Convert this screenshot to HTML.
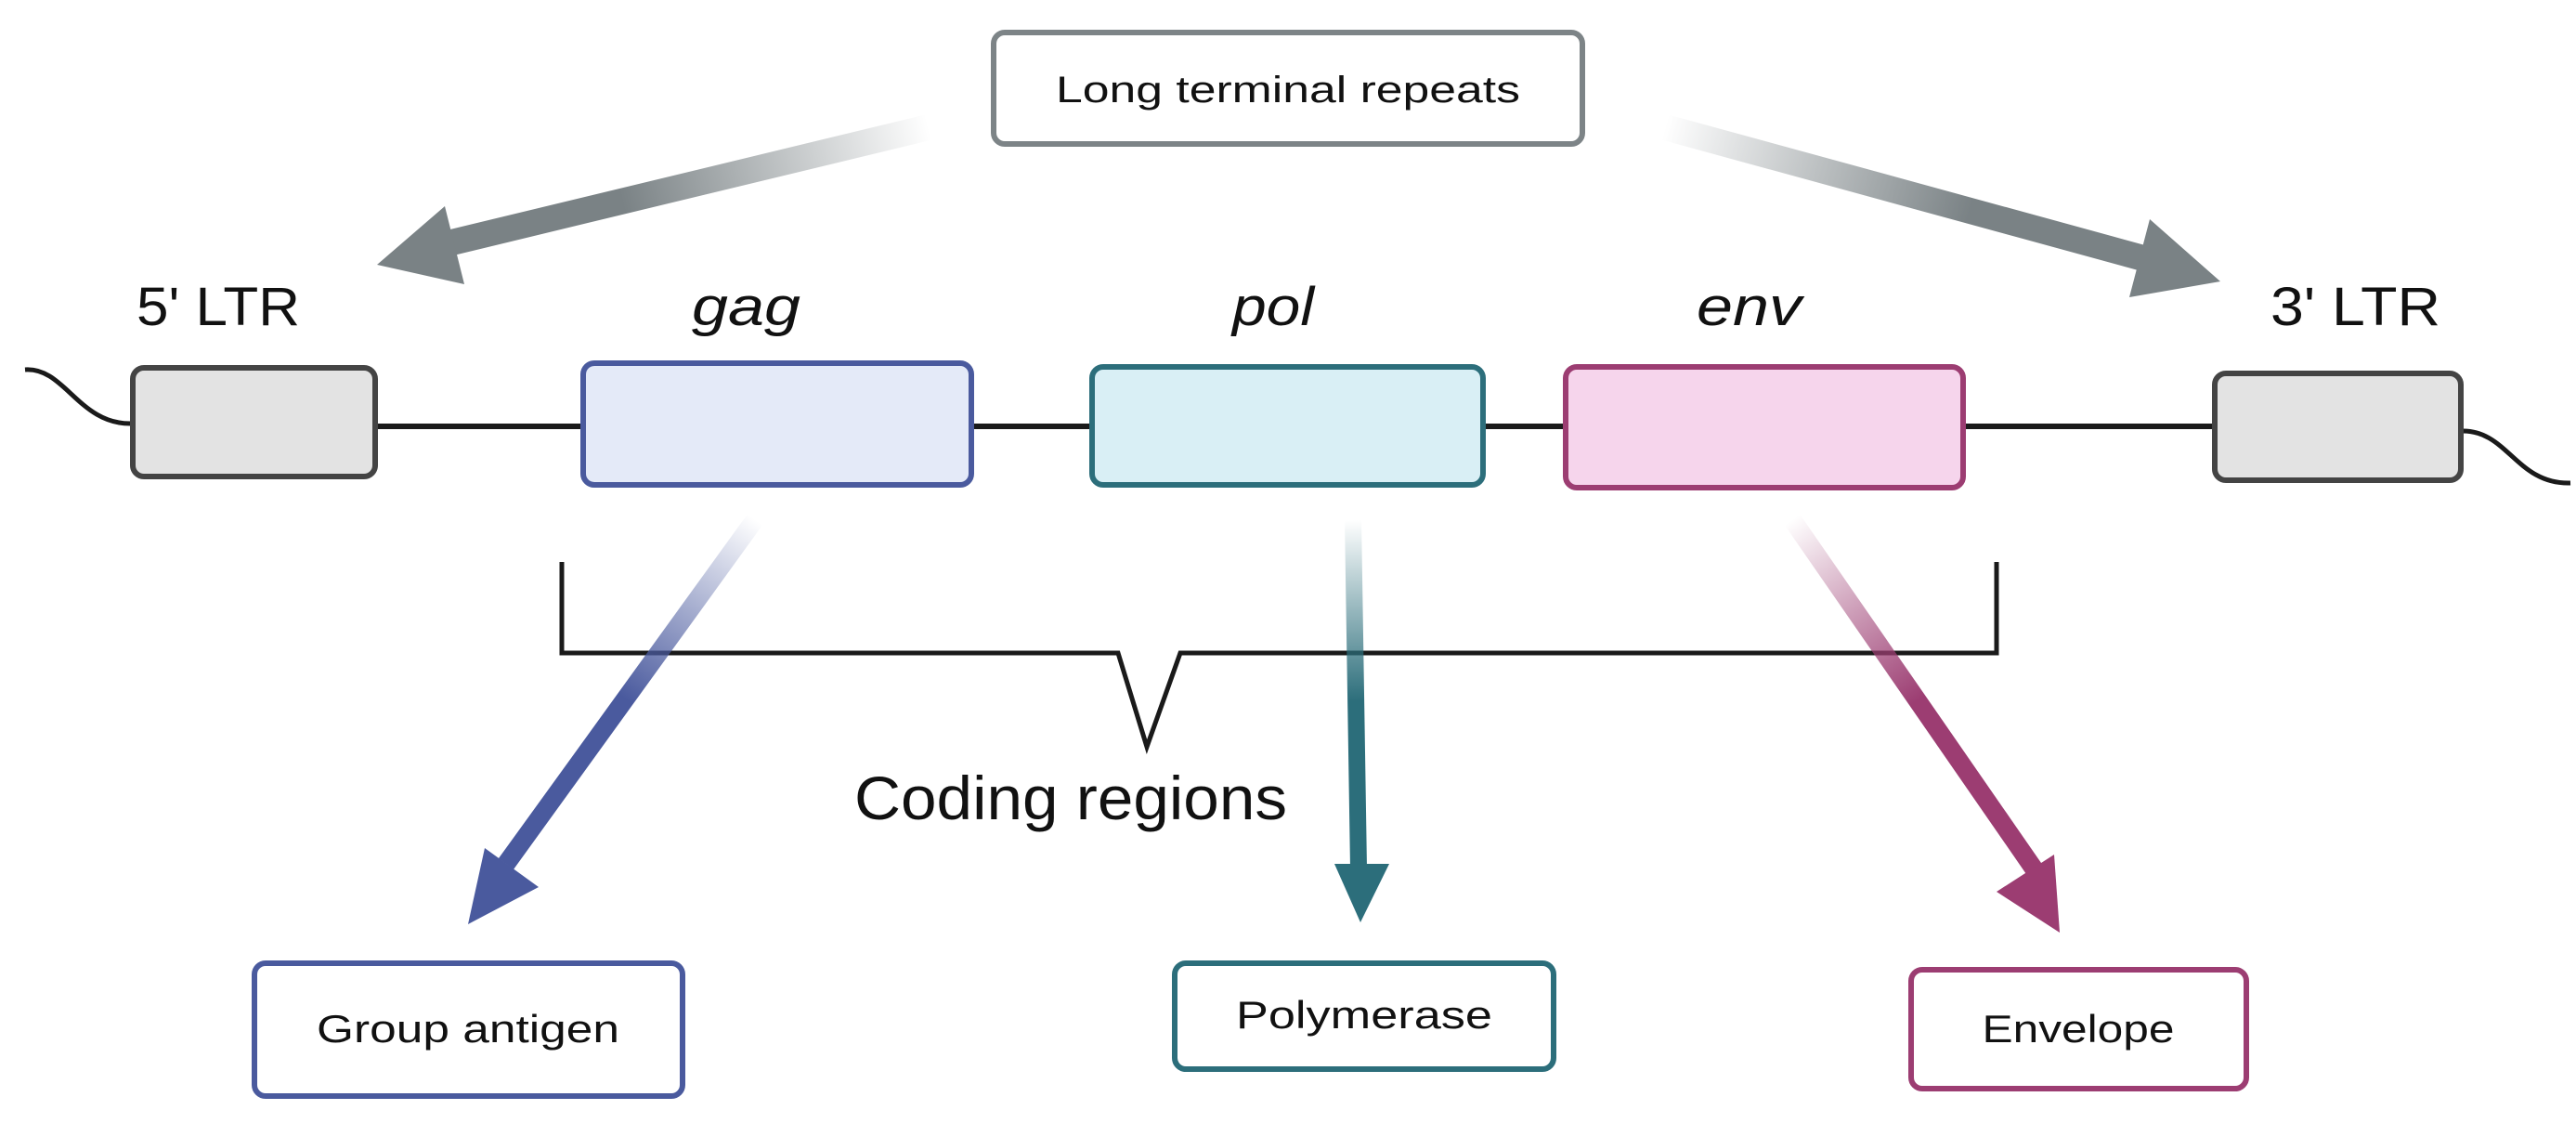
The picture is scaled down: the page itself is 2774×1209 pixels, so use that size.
<!DOCTYPE html>
<html><head><meta charset="utf-8"><style>html,body{margin:0;padding:0;background:#fff}svg{display:block}</style></head>
<body>
<svg width="2774" height="1209" viewBox="0 0 2774 1209" xmlns="http://www.w3.org/2000/svg" font-family="Liberation Sans, sans-serif">
<defs>
<linearGradient id="gl" gradientUnits="userSpaceOnUse" x1="1000" y1="137" x2="450" y2="270"><stop offset="0" stop-color="#7a8285" stop-opacity="0"/><stop offset="0.6" stop-color="#7a8285"/></linearGradient>
<linearGradient id="gr" gradientUnits="userSpaceOnUse" x1="1793" y1="137" x2="2340" y2="290"><stop offset="0" stop-color="#7a8285" stop-opacity="0"/><stop offset="0.6" stop-color="#7a8285"/></linearGradient>
<linearGradient id="gb" gradientUnits="userSpaceOnUse" x1="814" y1="560" x2="540" y2="950"><stop offset="0" stop-color="#4a5a9e" stop-opacity="0"/><stop offset="0.5" stop-color="#4a5a9e"/></linearGradient>
<linearGradient id="gt" gradientUnits="userSpaceOnUse" x1="1457" y1="560" x2="1465" y2="950"><stop offset="0" stop-color="#2c6e7b" stop-opacity="0"/><stop offset="0.5" stop-color="#2c6e7b"/></linearGradient>
<linearGradient id="gp" gradientUnits="userSpaceOnUse" x1="1929" y1="560" x2="2200" y2="950"><stop offset="0" stop-color="#9c3d72" stop-opacity="0"/><stop offset="0.5" stop-color="#9c3d72"/></linearGradient>
</defs>

<rect x="1070" y="35" width="634" height="120" rx="12" fill="#fff" stroke="#7d8487" stroke-width="6"/>
<text x="1387" y="110" font-size="40" text-anchor="middle" fill="#111" textLength="500" lengthAdjust="spacingAndGlyphs">Long terminal repeats</text>

<line x1="1000" y1="137" x2="470" y2="265" stroke="url(#gl)" stroke-width="28"/>
<polygon points="406,285 479,222 500,306" fill="#7a8285"/>
<line x1="1793" y1="137" x2="2330" y2="284" stroke="url(#gr)" stroke-width="28"/>
<polygon points="2391,303 2315,236 2293,320" fill="#7a8285"/>

<line x1="404" y1="459" x2="2385" y2="459" stroke="#1a1a1a" stroke-width="6"/>
<path d="M27,398 C70,395 85,458 143,456" fill="none" stroke="#1a1a1a" stroke-width="5"/>
<path d="M2650,464 C2700,462 2710,522 2768,520" fill="none" stroke="#1a1a1a" stroke-width="5"/>

<rect x="143" y="396" width="261" height="117" rx="12" fill="#e3e3e3" stroke="#444" stroke-width="6"/>
<rect x="628" y="391" width="418" height="131" rx="12" fill="#e4eaf8" stroke="#4a5a9e" stroke-width="6"/>
<rect x="1176" y="395" width="421" height="127" rx="12" fill="#d9eff5" stroke="#2c6e7b" stroke-width="6"/>
<rect x="1686" y="395" width="428" height="130" rx="12" fill="#f6d5ec" stroke="#9c3d72" stroke-width="6"/>
<rect x="2385" y="402" width="265" height="115" rx="12" fill="#e3e3e3" stroke="#444" stroke-width="6"/>

<g font-size="58" fill="#111">
<text x="147" y="350" textLength="176" lengthAdjust="spacingAndGlyphs">5' LTR</text>
<text x="2445" y="350" textLength="183" lengthAdjust="spacingAndGlyphs">3' LTR</text>
<text x="745" y="350" font-style="italic" textLength="117" lengthAdjust="spacingAndGlyphs">gag</text>
<text x="1327" y="350" font-style="italic" textLength="88" lengthAdjust="spacingAndGlyphs">pol</text>
<text x="1827" y="350" font-style="italic" textLength="113" lengthAdjust="spacingAndGlyphs">env</text>
</g>

<path d="M605,605 V703 H1204 L1235,804 L1271,703 H2150 V605" fill="none" stroke="#1a1a1a" stroke-width="5"/>
<text x="920" y="882" font-size="66" fill="#111" textLength="466" lengthAdjust="spacingAndGlyphs">Coding regions</text>

<line x1="814" y1="558" x2="545" y2="930" stroke="url(#gb)" stroke-width="20"/>
<polygon points="504,995 522,913 580,955" fill="#4a5a9e"/>
<line x1="1457" y1="558" x2="1463" y2="935" stroke="url(#gt)" stroke-width="18"/>
<polygon points="1465,993 1437,930 1496,930" fill="#2c6e7b"/>
<line x1="1929" y1="558" x2="2190" y2="935" stroke="url(#gp)" stroke-width="20"/>
<polygon points="2218,1004 2212,920 2150,960" fill="#9c3d72"/>

<rect x="274" y="1037" width="461" height="143" rx="12" fill="#fff" stroke="#4a5a9e" stroke-width="6"/>
<text x="504" y="1122" font-size="42" text-anchor="middle" fill="#111" textLength="326" lengthAdjust="spacingAndGlyphs">Group antigen</text>
<rect x="1265" y="1037" width="408" height="114" rx="12" fill="#fff" stroke="#2c6e7b" stroke-width="6"/>
<text x="1469" y="1107" font-size="42" text-anchor="middle" fill="#111" textLength="276" lengthAdjust="spacingAndGlyphs">Polymerase</text>
<rect x="2058" y="1044" width="361" height="128" rx="12" fill="#fff" stroke="#9c3d72" stroke-width="6"/>
<text x="2238" y="1122" font-size="42" text-anchor="middle" fill="#111" textLength="207" lengthAdjust="spacingAndGlyphs">Envelope</text>
</svg>
</body></html>
